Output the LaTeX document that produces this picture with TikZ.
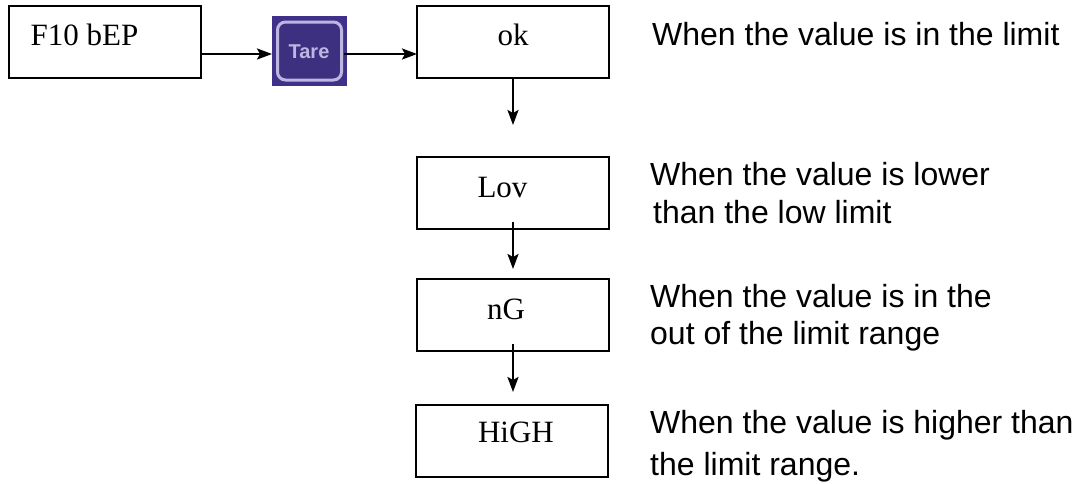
\documentclass[tikz,border=0pt]{standalone}
\usepackage{fontspec}
\setmainfont{Liberation Serif}
\newfontfamily\lsans{Liberation Sans}
\usetikzlibrary{arrows.meta}
\definecolor{tareout}{HTML}{41308A}
\definecolor{tarein}{HTML}{3D3080}
\definecolor{tareline}{HTML}{BDB6E0}
\tikzset{
  flowbox/.style={draw=black,line width=2pt,minimum width=192pt,minimum height=72pt,inner sep=0pt,outer sep=0pt,anchor=north west},
  boxtext/.style={font=\fontsize{31}{33}\selectfont,inner sep=0pt,anchor=base},
  note/.style={font=\lsans\fontsize{32}{34}\selectfont,inner sep=0pt,anchor=base west},
  flow/.style={line width=2.3pt,-{Stealth[length=15pt,width=11pt,inset=3pt]}}
}
\begin{document}
\begin{tikzpicture}[x=1pt,y=-1pt]
\useasboundingbox (0,0) rectangle (1080,483);
\node[flowbox] (f10) at (8.5,6) {};
\node[flowbox] (ok) at (417,6) {};
\node[flowbox] (lov) at (417,156.5) {};
\node[flowbox] (ng) at (417,279) {};
\node[flowbox] (high) at (416,405) {};
\node[boxtext] (t1) at (84.5,45) {F10 bEP};
\node[boxtext] (t2) at (513,45) {ok};
\node[boxtext] (t3) at (502.5,197) {Lov};
\node[boxtext] (t4) at (506,319) {nG};
\node[boxtext] (t5) at (516,442) {HiGH};
\node[fill=tareout,minimum width=75pt,minimum height=70pt,inner sep=0pt,outer sep=0pt,anchor=north west] (tare) at (272,16) {};
\node[draw=tareline,fill=tarein,line width=3pt,rounded corners=8pt,minimum width=64pt,minimum height=58pt,inner sep=0pt] (tarei) at (tare.center) {};
\node[font=\lsans\bfseries\fontsize{20}{21}\selectfont,text=tareline,inner sep=0pt,anchor=base] (taret) at (309,58) {Tare};
\draw[flow] ([yshift=-12pt]f10.east) -- ([yshift=-3pt]tare.west);
\draw[flow] ([xshift=-3pt,yshift=-3pt]tare.east) -- ([yshift=-12pt]ok.west);
\draw[flow] (ok.south) -- ([yshift=31.5pt]lov.north);
\draw[flow] ([yshift=7pt]lov.south) -- ([yshift=10pt]ng.north);
\draw[flow] ([yshift=7pt]ng.south) -- ([xshift=1pt,yshift=13pt]high.north);
\node[note] (n1) at (652,45) {When the value is in the limit};
\node[note] (n2) at (650,185) {When the value is lower};
\node[note] (n3) at (653,223) {than the low limit};
\node[note] (n4) at (650,307) {When the value is in the};
\node[note] (n5) at (650,344) {out of the limit range};
\node[note] (n6) at (650,433) {When the value is higher than};
\node[note] (n7) at (650,475) {the limit range.};
\end{tikzpicture}
\end{document}
